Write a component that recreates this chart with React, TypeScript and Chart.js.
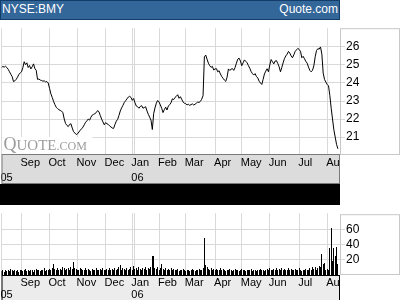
import { useEffect, useRef } from "react";
import { Chart, registerables } from "chart.js";

Chart.register(...registerables);

const FONT = "'Liberation Sans', Arial, Helvetica, sans-serif";
const SERIF = "'Liberation Serif', 'Times New Roman', serif";
const GRID = "#d9d9d9";
const BOX = "#c8c8c8";

// Session index (trading day) where each month / year begins
const monthNames = ["Sep", "Oct", "Nov", "Dec", "Jan", "Feb", "Mar", "Apr", "May", "Jun", "Jul", "Aug"];
const monthStarts = [15, 36, 57, 78, 98, 118, 138, 160, 180, 201, 223, 244];
const yearNames = ["05", "06"];
const yearStarts = [0, 98];
const sessionSpan = 253.6;

const priceTicks = [21, 22, 23, 24, 25, 26];
const volumeTicks = [20, 40, 60];

// Daily closing price, NYSE:BMY
const closes = [
  24.85, 24.92, 24.88, 24.93, 24.86, 24.76, 24.62, 24.48, 24.35, 24.08,
  24.12, 24.2, 24.32, 24.48, 24.55, 24.62, 24.85, 25.18, 25.02, 25.12,
  24.86, 24.97, 24.78, 24.9, 25.06, 24.8, 24.7, 24.2, 24.22, 24.16,
  24.14, 24.1, 24.12, 24.06, 24.08, 24.0, 23.7, 23.4, 23.2, 22.98,
  22.8, 22.65, 22.58, 22.52, 22.48, 22.44, 22.35, 22.0, 21.75, 21.65,
  21.58, 21.7, 21.74, 21.5, 21.3, 21.22, 21.14, 21.18, 21.28, 21.38,
  21.46, 21.55, 21.68, 21.82, 21.9, 22.0, 21.94, 22.1, 22.22, 22.26,
  22.3, 22.36, 22.47, 22.4, 22.2, 22.0, 21.84, 21.68, 21.8, 21.74,
  21.7, 21.62, 21.56, 21.5, 21.48, 21.7, 21.88, 21.98, 22.2, 22.45,
  22.62, 22.76, 22.92, 23.02, 23.12, 23.22, 23.26, 23.2, 23.04, 23.14,
  22.9, 22.72, 22.68, 22.6, 22.7, 22.74, 22.6, 22.64, 22.68, 22.45,
  22.26, 22.1, 21.94, 21.42, 22.3, 22.62, 22.88, 23.03, 22.95, 22.78,
  22.6, 22.36, 22.52, 22.66, 22.5, 22.72, 22.8, 22.9, 23.12, 23.08,
  23.2, 23.26, 23.35, 23.15, 23.24, 23.1, 22.95, 22.88, 22.86, 22.78,
  22.82, 22.76, 22.8, 22.84, 22.78, 22.82, 22.88, 22.94, 22.92, 22.98,
  23.1, 23.3, 25.45, 25.55, 25.32, 25.1, 24.96, 24.87, 24.92, 24.72,
  24.78, 24.8, 24.62, 24.68, 24.5, 24.36, 24.26, 24.16, 24.09, 24.32,
  24.78, 24.7, 24.76, 24.8, 24.7, 24.86, 25.1, 25.32, 25.38, 25.22,
  24.96, 25.12, 25.28, 25.2, 25.12, 24.96, 24.82, 24.64, 24.52, 24.44,
  24.52, 24.36, 24.28, 24.1, 24.0, 23.92, 24.2, 24.5, 24.66, 24.79,
  24.62, 25.0, 25.3, 25.18, 25.06, 25.22, 25.24, 25.08, 24.9, 24.62,
  24.86, 25.12, 25.36, 25.5, 25.6, 25.75, 25.66, 25.5, 25.4, 25.56,
  25.75, 25.84, 25.92, 25.86, 25.76, 25.4, 25.48, 25.34, 25.2, 25.1,
  24.88, 24.7, 24.62, 24.7, 24.95, 25.45, 25.8, 25.9, 25.88, 26.0,
  25.6, 24.55, 24.2, 24.05, 23.92, 23.84, 23.3, 22.6, 22.0, 21.4,
  21.0, 20.6, 20.35,
];

// Daily volume, millions of shares
const volumes = [
  5, 6, 4, 7, 5, 6, 5, 8, 6, 5,
  7, 5, 6, 4, 6, 7, 5, 6, 8, 5,
  6, 5, 7, 6, 4, 6, 8, 7, 6, 5,
  7, 6, 9, 5, 7, 6, 8, 7, 9, 15,
  8, 7, 9, 6, 8, 7, 10, 9, 7, 8,
  9, 7, 10, 8, 17, 9, 8, 6, 7, 9,
  8, 6, 7, 9, 6, 8, 7, 5, 8, 6,
  7, 9, 6, 7, 8, 6, 9, 7, 6, 8,
  7, 9, 6, 8, 7, 9, 6, 8, 10, 13,
  7, 9, 8, 6, 9, 7, 8, 10, 7, 12,
  8, 9, 7, 10, 8, 6, 9, 8, 10, 7,
  9, 8, 11, 25, 25, 9, 8, 10, 7, 9,
  15, 8, 7, 9, 6, 8, 7, 9, 6, 8,
  7, 6, 8, 5, 7, 6, 8, 7, 5, 6,
  7, 5, 6, 8, 6, 5, 7, 6, 8, 7,
  6, 9, 49, 13, 11, 8, 7, 9, 6, 8,
  7, 8, 6, 7, 9, 6, 8, 7, 5, 7,
  6, 8, 7, 5, 6, 8, 6, 7, 5, 6,
  8, 6, 7, 5, 6, 7, 6, 8, 5, 7,
  6, 5, 7, 6, 8, 7, 6, 5, 7, 8,
  6, 9, 7, 6, 8, 7, 9, 6, 8, 7,
  9, 6, 8, 7, 6, 9, 7, 8, 6, 7,
  8, 6, 7, 9, 6, 5, 7, 6, 8, 6,
  7, 9, 6, 10, 8, 11, 7, 9, 12, 10,
  28, 15, 16, 7, 8, 6, 36, 63, 19, 36,
  25, 37, 14,
];

const xTickValues = Array.from(new Set([...yearStarts, ...monthStarts])).sort((a, b) => a - b);
const xTickLabels = xTickValues.map((v) => {
  const m = monthStarts.indexOf(v);
  const y = yearStarts.indexOf(v);
  return [m >= 0 ? monthNames[m] : "", y >= 0 ? yearNames[y] : ""];
});

function timeAxis(bandHeight: number, lineHeight: number, padding: number) {
  return {
    type: "linear",
    position: "bottom",
    min: 0,
    max: sessionSpan,
    offset: false,
    afterBuildTicks: (s: any) => {
      s.ticks = xTickValues.map((value) => ({ value }));
    },
    afterFit: (s: any) => {
      s.height = bandHeight;
    },
    grid: { color: GRID, offset: false, drawTicks: false, lineWidth: 1 },
    border: { display: false },
    ticks: {
      autoSkip: false,
      maxRotation: 0,
      minRotation: 0,
      align: "start",
      labelOffset: -1,
      padding,
      color: "#000",
      font: { family: FONT, size: 11, lineHeight: lineHeight / 11 },
      callback: (_v: any, i: number) => xTickLabels[i],
    },
  };
}

function valueAxis(min: number, max: number, ticks: number[]) {
  return {
    type: "linear",
    position: "right",
    min,
    max,
    afterBuildTicks: (s: any) => {
      s.ticks = ticks.map((value) => ({ value }));
    },
    afterFit: (s: any) => {
      s.width = 60;
    },
    grid: { color: GRID, drawTicks: true, tickLength: 5 },
    border: { display: false },
    ticks: {
      padding: 1,
      color: "#000",
      font: { family: FONT, size: 12 },
      callback: (v: any) => String(v),
    },
  };
}

// Gray date band under the plot, the framed value-label box on the right,
// the doubled rule at each new year and the optional logo in the corner.
function framePlugin(o: {
  bandFill: string;
  bandStroke: string;
  bandBottom: boolean;
  boxInset: number;
  logo: boolean;
  snapBars: boolean;
}) {
  return {
    id: "frame",
    beforeDraw(chart: any) {
      const { ctx, chartArea: a } = chart;
      ctx.save();
      ctx.fillStyle = "#fff";
      ctx.fillRect(0, 0, chart.width, chart.height);
      ctx.fillStyle = o.bandFill;
      ctx.fillRect(a.left, a.bottom, a.right - a.left, chart.height - a.bottom);
      ctx.restore();
    },
    beforeDatasetsDraw(chart: any) {
      const { ctx, chartArea: a } = chart;
      const xs = chart.scales.x;
      ctx.save();
      ctx.strokeStyle = GRID;
      ctx.lineWidth = 1;
      yearStarts
        .filter((v) => v > 0)
        .forEach((v) => {
          const px = Math.round(xs.getPixelForValue(v)) + 2.5;
          ctx.beginPath();
          ctx.moveTo(px, a.top);
          ctx.lineTo(px, a.bottom);
          ctx.stroke();
        });
      if (o.logo) {
        ctx.fillStyle = "#fff";
        ctx.fillRect(a.left + 1, a.bottom - 17, 90, 17);
        ctx.fillStyle = "#9c9c9c";
        ctx.textBaseline = "alphabetic";
        const base = a.bottom - 4;
        let x = a.left + 2;
        ctx.font = `18px ${SERIF}`;
        ctx.fillText("Q", x, base);
        x += ctx.measureText("Q").width;
        ctx.font = `15px ${SERIF}`;
        ctx.fillText("UOTE", x, base);
        x += ctx.measureText("UOTE").width;
        ctx.font = `12px ${SERIF}`;
        ctx.fillText(".COM", x, base);
      }
      ctx.restore();
      if (o.snapBars) {
        // keep one-pixel bars on whole pixel columns so they render crisp
        chart.getDatasetMeta(0).data.forEach((el: any) => {
          el.x = Math.floor(el.x) + 0.5;
          el.y = Math.round(el.y);
        });
      }
    },
    afterDraw(chart: any) {
      const { ctx, chartArea: a } = chart;
      ctx.save();
      // labels running past the band are cut at its right edge
      ctx.fillStyle = "#fff";
      ctx.fillRect(a.right, a.bottom + 1, chart.width - a.right, chart.height - a.bottom);
      ctx.lineWidth = 1;
      ctx.strokeStyle = o.bandStroke;
      const bh = chart.height - a.bottom - (o.bandBottom ? 1 : -2);
      ctx.strokeRect(a.left + 0.5, a.bottom + 0.5, a.right - a.left - 1, bh);
      ctx.strokeStyle = BOX;
      ctx.strokeRect(a.right + 0.5, a.top + 0.5 + o.boxInset, chart.width - a.right - 1, a.bottom - a.top - 2 * o.boxInset);
      ctx.restore();
    },
  };
}

export default function App() {
  const priceRef = useRef<HTMLCanvasElement>(null);
  const volumeRef = useRef<HTMLCanvasElement>(null);

  useEffect(() => {
    const price = new Chart(priceRef.current as HTMLCanvasElement, {
      type: "line",
      data: {
        datasets: [
          {
            data: closes.map((y, x) => ({ x, y })),
            borderColor: "#000",
            borderWidth: 1,
            pointRadius: 0,
            tension: 0,
            fill: false,
          },
        ],
      },
      options: {
        animation: false,
        responsive: false,
        events: [],
        layout: { padding: 0, autoPadding: false },
        plugins: { legend: { display: false }, tooltip: { enabled: false } },
        scales: {
          x: timeAxis(30, 15, 1.5),
          y: valueAxis(20.06, 27.04, priceTicks),
        },
      } as any,
      plugins: [
        framePlugin({ bandFill: "#dcdcdc", bandStroke: "#7a7a7a", bandBottom: true, boxInset: 0, logo: true, snapBars: false }),
      ],
    });

    const volume = new Chart(volumeRef.current as HTMLCanvasElement, {
      type: "bar",
      data: {
        datasets: [
          {
            data: volumes.map((y, x) => ({ x, y })),
            backgroundColor: "#000",
            borderWidth: 0,
            barThickness: 1,
            inflateAmount: 0,
          },
        ],
      },
      options: {
        animation: false,
        responsive: false,
        events: [],
        layout: { padding: 0, autoPadding: false },
        plugins: { legend: { display: false }, tooltip: { enabled: false } },
        scales: {
          x: timeAxis(25, 12, 1.5),
          y: valueAxis(0, 82, volumeTicks),
        },
      } as any,
      plugins: [
        framePlugin({ bandFill: "#ececec", bandStroke: "#000", bandBottom: false, boxInset: 1, logo: false, snapBars: true }),
      ],
    });

    return () => {
      price.destroy();
      volume.destroy();
    };
  }, []);

  const headText = {
    position: "absolute" as const,
    top: 3,
    fontFamily: FONT,
    fontSize: 12,
    lineHeight: "12px",
    color: "#fff",
    whiteSpace: "nowrap" as const,
  };

  return (
    <div style={{ position: "fixed", left: 0, top: 0, width: 400, height: 300, background: "#fff", overflow: "hidden" }}>
      <div
        style={{
          position: "absolute",
          left: 0,
          top: 0,
          width: 340,
          height: 20,
          boxSizing: "border-box",
          background: "#336699",
          border: "1px solid #123d6b",
        }}
      />
      <span style={{ ...headText, left: 2 }}>NYSE:BMY</span>
      <span style={{ ...headText, right: 62 }}>Quote.com</span>
      <canvas ref={priceRef} width={400} height={164} style={{ position: "absolute", left: 0, top: 20, width: 400, height: 164 }} />
      <div style={{ position: "absolute", left: 0, top: 184, width: 340, height: 21, background: "#000" }} />
      <canvas ref={volumeRef} width={400} height={95} style={{ position: "absolute", left: 0, top: 205, width: 400, height: 95 }} />
    </div>
  );
}
